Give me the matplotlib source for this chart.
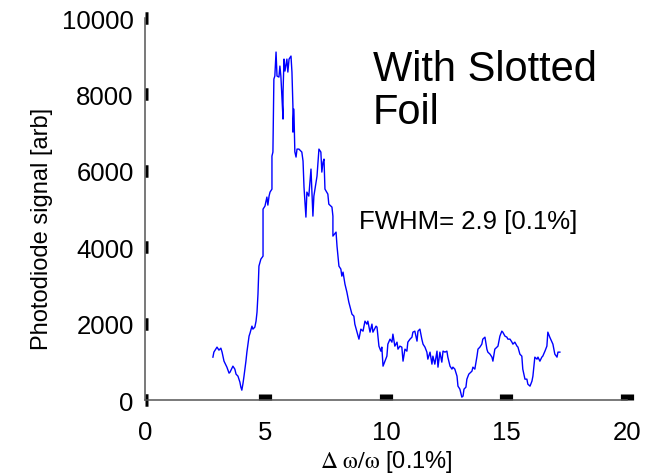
import numpy as np
import matplotlib
matplotlib.use('Agg')
import matplotlib.pyplot as plt

plt.rcParams['font.family'] = ['Liberation Sans', 'DejaVu Sans']
plt.rcParams['mathtext.fontset'] = 'stix'

# photodiode trace (x in units of 0.1%, y in arb)
dw = [2.82, 2.86, 2.99, 3.07, 3.15, 3.20, 3.28, 3.40, 3.49, 3.53, 3.61, 3.65, 3.73, 3.78,
      3.86, 3.94, 3.98, 4.02, 4.07, 4.11, 4.19, 4.23, 4.32, 4.36, 4.44, 4.48, 4.56, 4.61,
      4.65, 4.69, 4.73, 4.81, 4.90, 4.90, 4.98, 5.06, 5.10, 5.15, 5.19, 5.27, 5.27, 5.31,
      5.35, 5.39, 5.44, 5.48, 5.56, 5.60, 5.64, 5.73, 5.73, 5.77, 5.81, 5.89, 5.93, 5.98,
      6.06, 6.10, 6.14, 6.14, 6.18, 6.22, 6.27, 6.31, 6.39, 6.51, 6.56, 6.60, 6.68, 6.72,
      6.80, 6.89, 6.97, 7.01, 7.10, 7.14, 7.22, 7.30, 7.34, 7.39, 7.43, 7.47, 7.59, 7.63,
      7.76, 7.80, 7.80, 7.93, 7.97, 8.05, 8.13, 8.17, 8.22, 8.30, 8.38, 8.46, 8.59, 8.67,
      8.71, 8.80, 8.88, 8.96, 9.05, 9.13, 9.21, 9.25, 9.34, 9.42, 9.46, 9.59, 9.63, 9.71,
      9.79, 9.83, 9.88, 9.96, 10.04, 10.08, 10.17, 10.25, 10.29, 10.37, 10.46, 10.50, 10.58,
      10.66, 10.71, 10.79, 10.87, 10.91, 11.00, 11.08, 11.12, 11.20, 11.29, 11.33, 11.41,
      11.49, 11.54, 11.62, 11.70, 11.74, 11.83, 11.91, 11.95, 12.03, 12.12, 12.16, 12.24,
      12.32, 12.37, 12.45, 12.53, 12.57, 12.66, 12.74, 12.78, 12.86, 12.95, 12.99, 13.07,
      13.15, 13.20, 13.24, 13.32, 13.36, 13.44, 13.57, 13.61, 13.69, 13.78, 13.82, 13.90,
      13.98, 14.02, 14.11, 14.19, 14.23, 14.32, 14.40, 14.44, 14.52, 14.61, 14.65, 14.73,
      14.81, 14.85, 14.94, 15.02, 15.06, 15.15, 15.23, 15.27, 15.35, 15.44, 15.48, 15.56,
      15.64, 15.68, 15.77, 15.85, 15.89, 15.98, 16.06, 16.10, 16.18, 16.27, 16.31, 16.39,
      16.47, 16.51, 16.60, 16.68, 16.72, 16.80, 16.89, 16.93, 17.01, 17.10, 17.14, 17.22]
signal = [1126, 1257, 1388, 1309, 1361, 1257, 1021, 864, 707, 733, 838, 890, 812, 681,
          628, 471, 340, 262, 445, 628, 1021, 1257, 1676, 1754, 1937, 1859, 1911, 2068,
          2304, 2775, 3508, 3691, 3770, 5000, 5079, 5315, 5105, 5341, 5445, 5524, 6388, 6493,
          8404, 8482, 9111, 8482, 8456, 8744, 8482, 7357, 8063, 8927, 8613, 8927, 8587, 8927,
          9006, 8587, 7697, 7016, 7618, 6500, 6362, 6571, 6571, 6493, 6257, 5576, 4791, 5445,
          5341, 6048, 4817, 5341, 5707, 5864, 6571, 6493, 5969, 6231, 6309, 5524, 5393, 5131,
          5053, 4817, 4294, 4398, 4032, 3508, 3430, 3246, 3351, 3037, 2827, 2566, 2251, 2199,
          1990, 1780, 1597, 1859, 1806, 2068, 1990, 2068, 1780, 1990, 1780, 1937, 1911, 1414,
          1283, 1388, 890, 1021, 1152, 1466, 1597, 1518, 1728, 1414, 1518, 1335, 1414,
          1388, 1021, 1335, 1283, 1518, 1597, 1649, 1780, 1806, 1545, 1806, 1859,
          1597, 1466, 1388, 1257, 1073, 1257, 942, 1152, 942, 1283, 864, 1257,
          995, 1283, 1257, 1283, 1126, 890, 812, 864, 812, 628, 367, 288,
          79, 105, 288, 340, 550, 681, 759, 864, 812, 1152, 1335, 1388,
          1466, 1597, 1649, 1335, 1257, 1204, 1126, 1021, 1335, 1388, 1414, 1676,
          1806, 1780, 1676, 1649, 1597, 1597, 1518, 1466, 1518, 1414, 1388, 1204,
          1152, 812, 550, 550, 419, 367, 497, 628, 1126, 1073, 1126, 1021,
          1126, 1152, 1283, 1414, 1780, 1649, 1518, 1466, 1204, 1126, 1257, 1257]

xticks = [0, 5, 10, 15, 20]
yticks = [0, 2000, 4000, 6000, 8000, 10000]

fig = plt.figure(figsize=(6.53, 4.77), dpi=100)
ax = fig.add_axes([0.222, 0.159, 0.738, 0.801])
ax.plot(dw, signal, color='#0000ff', lw=1.0)

ax.set_xlim(0, 20)
ax.set_ylim(0, 10000)
ax.set_xticks(xticks)
ax.set_yticks(yticks)
ax.spines['top'].set_visible(False)
ax.spines['right'].set_visible(False)
for s in ['left', 'bottom']:
    ax.spines[s].set_color('#555555')
    ax.spines[s].set_linewidth(1.1)
ax.tick_params(axis='x', direction='in', length=4.5, width=9.5, color='black',
               labelsize=18.5, pad=14)
ax.tick_params(axis='y', direction='in', length=2.5, width=9, color='black',
               labelsize=18.5, pad=8)
# the x tick at 0 is hidden behind the y axis in the original
ax.xaxis.get_major_ticks()[0].tick1line.set_visible(False)

ax.set_ylabel('Photodiode signal [arb]', fontsize=17)
ax.yaxis.set_label_coords(-0.19, 0.45)
ax.set_xlabel(r'$\mathrm{\Delta\ \omega/\omega}$ [0.1%]', fontsize=17)
ax.xaxis.set_label_coords(0.5, -0.125)

ax.text(9.45, 9200, 'With Slotted\nFoil', fontsize=30, va='top', ha='left',
        linespacing=1.12)
ax.text(8.9, 4700, 'FWHM= 2.9 [0.1%]', fontsize=18.5, va='center', ha='left')

fig.savefig('out.png', dpi=100)
